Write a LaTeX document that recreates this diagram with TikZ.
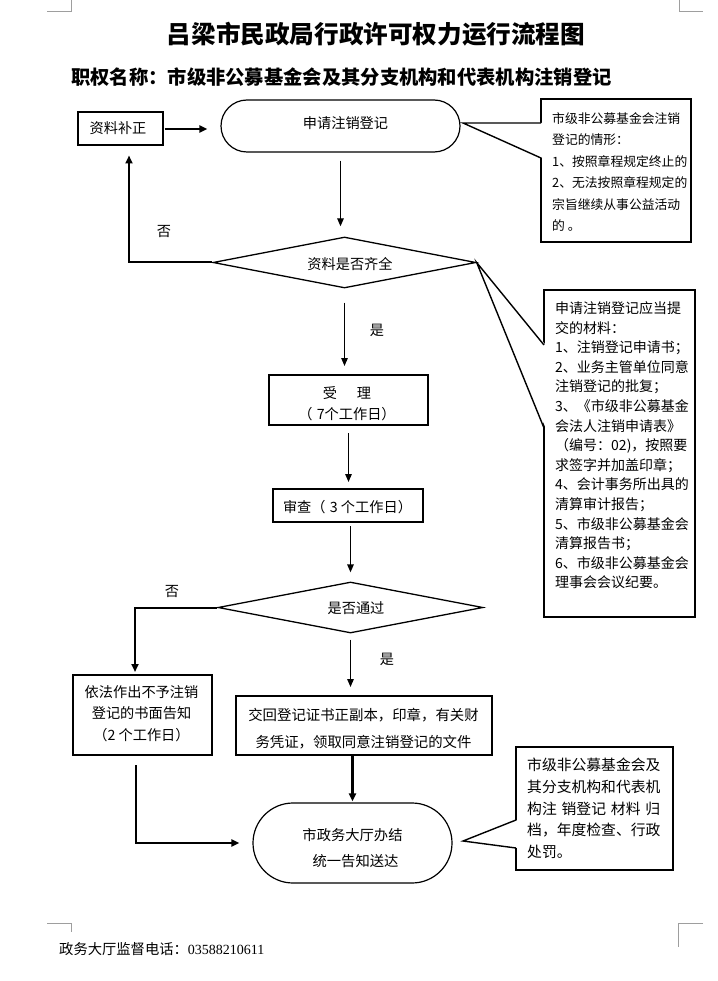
\documentclass[tikz,border=0pt]{standalone}
\usepackage{fontspec}
\newfontfamily\cjk{Noto Sans CJK SC}
\newfontfamily\tms{Liberation Serif}
\usetikzlibrary{shapes.geometric,arrows.meta}
\begin{document}
\begin{tikzpicture}[x=1pt,y=-1pt,
  rbox/.style={draw, line width=2pt, inner sep=0pt},
  stad/.style={draw, line width=1.2pt, inner sep=0pt},
  dia/.style={diamond, draw, line width=1.3pt, inner sep=0pt},
  cbox/.style={draw, fill=white, line width=1.6pt, inner sep=0pt},
  ptr/.style={line width=1.4pt, line join=miter},
  txt/.style={inner sep=0pt, align=center, font=\cjk\fontsize{14.2}{21}\selectfont},
  ctxt/.style={inner sep=0pt, anchor=north west, align=left},
  lbl/.style={inner sep=0pt, font=\cjk\fontsize{14.2}{17}\selectfont},
  arrthick/.style={line width=2pt, -{Triangle[length=8pt,width=7pt]}},
  arrthin/.style={line width=1.3pt, -{Triangle[length=8pt,width=6.5pt]}},
  corner/.style={draw=black!38, line width=1pt}
]
\fill[white] (0,0) rectangle (717,981);
\useasboundingbox (0,0) rectangle (717,981);

% corner marks
\draw[corner] (47,12) -- (71,12) -- (71,0);
\draw[corner] (679,0) -- (679,12) -- (703,12);
\draw[corner] (47,923) -- (71,923) -- (71,932);
\draw[corner] (703,923) -- (678,923) -- (678,947);

% titles
\node[inner sep=0pt, font=\cjk\bfseries\fontsize{24.6}{29}\selectfont] (title) at (376,34) {吕梁市民政局行政许可权力运行流程图};
\node[inner sep=0pt, anchor=west, font=\cjk\bfseries\fontsize{19.3}{23}\selectfont] (sub) at (71,77) {职权名称：市级非公募基金会及其分支机构和代表机构注销登记};

% shapes
\node[rbox, minimum width=85pt, minimum height=33pt] (bz) at (120,129) {};
\node[stad, rounded corners=26pt, minimum width=239pt, minimum height=52pt] (sq) at (340.5,126) {};
\node[dia, minimum width=263pt, minimum height=51pt] (d1) at (344.5,262.5) {};
\node[rbox, minimum width=159pt, minimum height=50pt] (sl) at (348.5,400) {};
\node[rbox, minimum width=150pt, minimum height=33pt] (sc) at (348,505.5) {};
\node[dia, minimum width=265pt, minimum height=51pt] (d2) at (350.5,607.5) {};
\node[rbox, minimum width=139pt, minimum height=80pt] (yf) at (142.5,715) {};
\node[rbox, minimum width=256pt, minimum height=59pt] (jh) at (364,725.5) {};
\node[stad, rounded corners=40pt, minimum width=199pt, minimum height=80pt] (fin) at (352.5,843) {};

% texts in shapes
\node[txt] (tbz) at (118,128) {资料补正};
\node[txt] (tsq) at (345.5,123) {申请注销登记};
\node[txt] (td1) at (350,264) {资料是否齐全};
\node[txt, font=\cjk\fontsize{14.2}{21}\selectfont] (tsl) at (347,403.5) {受\hspace{1.4em}理\\（\hspace{0.3em}7个工作日）};
\node[txt] (tsc) at (347.5,507) {审查（\hspace{0.3em}3 个工作日）};
\node[txt] (td2) at (356,608) {是否通过};
\node[txt, font=\cjk\fontsize{14.2}{21.5}\selectfont] (tyf) at (141.5,713.5) {依法作出不予注销\\登记的书面告知\\（2 个工作日）};
\node[txt, font=\cjk\fontsize{14.4}{27}\selectfont] (tjh) at (363.5,728.5) {交回登记证书正副本，印章，有关财\\务凭证，领取同意注销登记的文件};
\node[txt, font=\cjk\fontsize{14.3}{26}\selectfont] (tfin) at (352.5,848) {市政务大厅办结\\\hspace*{6pt}统一告知送达};

% connectors
\draw[arrthick, shorten <=1pt, shorten >=13pt] (bz.east) -- (bz.east -| sq.west);
\draw[arrthin, shorten <=8pt, shorten >=10pt] (sq.south) -- (sq.south |- d1.north);
\draw[arrthick, shorten >=9pt] (d1.west) -| ([xshift=9pt]bz.south);
\draw[arrthin, shorten <=14pt, shorten >=8pt] (d1.south) -- (d1.south |- sl.north);
\draw[arrthin, shorten <=7pt, shorten >=6pt] (sl.south) -- (sl.south |- sc.north);
\draw[arrthin, shorten <=3pt, shorten >=9pt] (d2.north |- sc.south) -- (d2.north);
\draw[arrthick, shorten >=2pt] (d2.west) -| ([xshift=-7.5pt]yf.north);
\draw[arrthin, shorten <=6pt, shorten >=8pt] (d2.south) -- (d2.south |- jh.north);
\draw[arrthick, line width=2.5pt, shorten >=1pt] (fin.north |- jh.south) -- (fin.north);
\draw[arrthick, shorten <=9pt, shorten >=13pt] ([xshift=-6.5pt]yf.south) |- (fin.west);

% labels
\node[lbl] (no1) at (164,232) {否};
\node[lbl] (yes1) at (377,330) {是};
\node[lbl] (no2) at (172,592) {否};
\node[lbl] (yes2) at (387,659) {是};

% callouts
\node[cbox, minimum width=150pt, minimum height=143pt] (c1) at (616,170.5) {};
\coordinate (c1tip) at (463,123);
\coordinate (c1a) at (541,123);
\coordinate (c1b) at (541,158);
\fill[white] (c1tip) -- ([xshift=1.6pt]c1a) -- ([xshift=1.6pt]c1b) -- cycle;
\draw[ptr] (c1a) -- (c1tip) -- (c1b);
\node[ctxt, font=\cjk\fontsize{12.8}{21.5}\selectfont] (c1t) at (552,111.6) {\rule{0pt}{.88em}市级非公募基金会注销\\登记的情形：\\1、按照章程规定终止的\\2、无法按照章程规定的\\宗旨继续从事公益活动\\的 。};

\node[cbox, minimum width=151pt, minimum height=327pt] (c2) at (619.5,453.5) {};
\coordinate (c2a) at (544,345);
\coordinate (c2b) at (544,428);
\fill[white] (d1.east) -- ([xshift=1.6pt]c2a) -- ([xshift=1.6pt]c2b) -- cycle;
\draw[ptr] (c2a) -- (d1.east) -- (c2b);
\node[ctxt, font=\cjk\fontsize{14}{19.6}\selectfont] (c2t) at (555,301) {\rule{0pt}{.88em}申请注销登记应当提\\交的材料：\\1、注销登记申请书；\\2、业务主管单位同意\\注销登记的批复；\\3、《市级非公募基金\\会法人注销申请表》\\（编号：02)，按照要\\求签字并加盖印章；\\4、会计事务所出具的\\清算审计报告；\\5、市级非公募基金会\\清算报告书；\\6、市级非公募基金会\\理事会会议纪要。};

\node[cbox, minimum width=157pt, minimum height=123pt] (c3) at (594.5,808.5) {};
\coordinate (c3tip) at (463,841);
\coordinate (c3a) at (516,820);
\coordinate (c3b) at (516,848);
\fill[white] (c3tip) -- ([xshift=1.6pt]c3a) -- ([xshift=1.6pt]c3b) -- cycle;
\draw[ptr] (c3a) -- (c3tip) -- (c3b);
\node[ctxt, font=\cjk\fontsize{14.8}{21.7}\selectfont] (c3t) at (527,757.6) {\rule{0pt}{.88em}市级非公募基金会及\\其分支机构和代表机\\构注\hspace{0.33em}销登记\hspace{0.33em}材料\hspace{0.33em}归\\档，年度检查、行政\\处罚。};

% footer
\node[inner sep=0pt, anchor=west] (foot) at (59,949) {\cjk\fontsize{14.3}{16}\selectfont 政务大厅监督电话：\tms\fontsize{14}{16}\selectfont 03588210611};
\end{tikzpicture}
\end{document}
